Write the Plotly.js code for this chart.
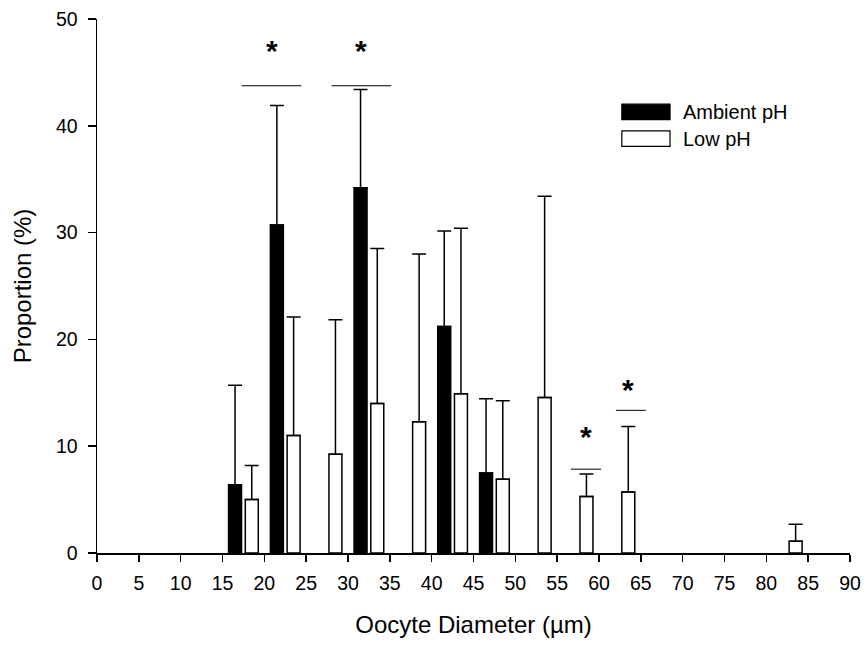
<!DOCTYPE html>
<html>
<head>
<meta charset="utf-8">
<script src="https://cdn.plot.ly/plotly-3.0.1.min.js"></script>
<style>html,body{margin:0;padding:0;background:#fff;}#chart{width:866px;height:645px;}</style>
</head>
<body>
<div id="chart"></div>
<script>
// Bin centres (µm), 5 µm bins
var binCenters = [17.5, 22.5, 27.5, 32.5, 37.5, 42.5, 47.5, 52.5, 57.5, 62.5, 82.5];
var ambientValues = [6.4, 30.7, null, 34.2, null, 21.2, 7.5, null, null, null, null];
var ambientErr    = [9.3, 11.2, null, 9.2, null, 8.95, 6.95, null, null, null, null];
var lowValues = [5.0, 11.0, 9.25, 14.0, 12.3, 14.9, 6.9, 14.55, 5.3, 5.7, 1.1];
var lowErr    = [3.2, 11.1, 12.6, 14.5, 15.7, 15.5, 7.35, 18.85, 2.1, 6.15, 1.6];
var seriesNames = ["Ambient pH", "Low pH"];
var xTicks = [0,5,10,15,20,25,30,35,40,45,50,55,60,65,70,75,80,85,90];
var yTicks = [0,10,20,30,40,50];
// Significance markers: centre x, line y, half width, star x, star y
var sigX     = [20.86, 31.6, 58.45, 63.8];
var sigLineY = [43.75, 43.75, 7.85, 13.36];
var sigHalf  = [3.57, 3.57, 1.8, 1.78];
var sigStarX = [20.86, 31.6, 58.4, 63.45];
var sigStarY = [47.2, 47.2, 11.1, 15.5];

var font = "Liberation Sans, Arial, sans-serif";

var errStyle = {type: 'data', symmetric: false, color: '#000', thickness: 1.5, width: 7};

var traces = [
  {
    type: 'bar', name: seriesNames[0], x: binCenters, y: ambientValues,
    marker: {color: '#000', line: {color: '#000', width: 1.5}},
    error_y: Object.assign({array: ambientErr, arrayminus: ambientErr.map(function(){return 0;})}, errStyle),
    showlegend: false, hoverinfo: 'x+y'
  },
  {
    type: 'bar', name: seriesNames[1], x: binCenters, y: lowValues,
    marker: {color: '#fff', line: {color: '#000', width: 1.5}},
    error_y: Object.assign({array: lowErr, arrayminus: lowErr.map(function(){return 0;})}, errStyle),
    showlegend: false, hoverinfo: 'x+y'
  }
];

var shapes = [];
var annotations = [];
for (var i = 0; i < sigX.length; i++) {
  shapes.push({type: 'line', xref: 'x', yref: 'y', x0: sigX[i] - sigHalf[i], x1: sigX[i] + sigHalf[i],
    y0: sigLineY[i], y1: sigLineY[i], line: {color: '#000', width: 1}});
  annotations.push({xref: 'x', yref: 'y', x: sigStarX[i], y: sigStarY[i], text: '<b>*</b>',
    showarrow: false, font: {family: font, size: 30, color: '#000'}, xanchor: 'center', yanchor: 'middle', yshift: -2});
}
// Legend drawn as shapes + text
var legendFill = ['#000', '#fff'];
var legendY = [0.826, 0.776];
for (var j = 0; j < seriesNames.length; j++) {
  shapes.push({type: 'rect', xref: 'paper', yref: 'paper', x0: 0.697, x1: 0.761,
    y0: legendY[j] - 0.0145, y1: legendY[j] + 0.0145, fillcolor: legendFill[j], line: {color: '#000', width: 1.2}});
  annotations.push({xref: 'paper', yref: 'paper', x: 0.776, y: legendY[j], text: seriesNames[j],
    showarrow: false, xanchor: 'left', yanchor: 'middle', font: {family: font, size: 20, color: '#000'}});
}

var layout = {
  width: 866, height: 645,
  margin: {l: 97, r: 16, t: 19, b: 92},
  paper_bgcolor: '#fff', plot_bgcolor: '#fff',
  font: {family: font, size: 20, color: '#000'},
  barmode: 'group', bargap: 0.2, bargroupgap: 0.225,
  showlegend: false,
  xaxis: {
    range: [0, 90], tickvals: xTicks, ticktext: xTicks.map(String),
    showline: true, linecolor: '#000', linewidth: 1.5, ticks: 'outside', ticklen: 7, tickwidth: 1.5, tickcolor: '#000',
    showgrid: false, zeroline: false, ticklabelstandoff: 5,
    tickfont: {family: font, size: 19.5, color: '#000'},
    title: {text: 'Oocyte Diameter (µm)', font: {family: font, size: 24, color: '#000'}, standoff: 23}
  },
  yaxis: {
    range: [0, 50], tickvals: yTicks, ticktext: yTicks.map(String),
    showline: true, linecolor: '#000', linewidth: 1.5, ticks: 'outside', ticklen: 8, tickwidth: 1.5, tickcolor: '#000',
    showgrid: false, zeroline: false, ticklabelstandoff: 6,
    tickfont: {family: font, size: 19.5, color: '#000'},
    title: {text: 'Proportion (%)', font: {family: font, size: 24, color: '#000'}, standoff: 17}
  },
  shapes: shapes,
  annotations: annotations
};

Plotly.newPlot('chart', traces, layout, {displayModeBar: false, staticPlot: true});
</script>
</body>
</html>
